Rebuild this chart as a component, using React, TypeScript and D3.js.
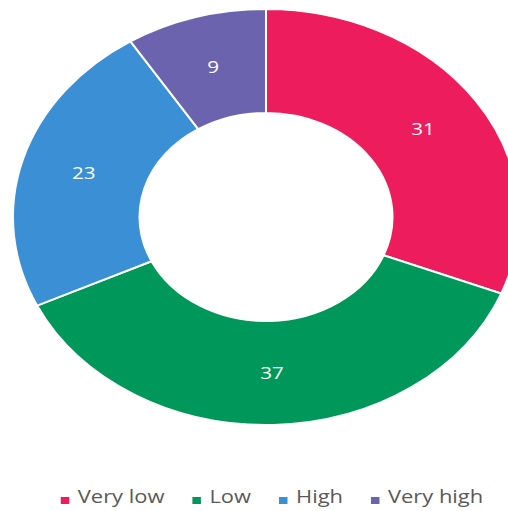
import { useMemo } from "react";
import * as d3 from "d3";

const categories = ["Very low", "Low", "High", "Very high"];
const values = [31, 37, 23, 9];
const colors = ["#ED1C5C", "#00985A", "#3A8FD5", "#6C63AE"];

const W = 508;
const H = 511;
const cx = 266;
const cy = 217;
const ry = 208;
const rx = 253;
const sx = rx / ry; // the original picture is stretched sideways

const legendFont = "18px 'Open Sans', sans-serif";

function measure(text: string): number {
    const ctx = document.createElement("canvas").getContext("2d");
    if (!ctx) return text.length * 9;
    ctx.font = legendFont;
    return ctx.measureText(text).width;
}

export default function App() {
    const data = categories.map((c, i) => ({ name: c, value: values[i], color: colors[i] }));

    const arcs = useMemo(
        () => d3.pie<any>().sort(null).value((d) => d.value)(data),
        []
    );
    const arc = d3.arc<any>().innerRadius(ry * 0.5).outerRadius(ry);

    // legend laid out in unstretched units, then stretched with sx
    const legend = useMemo(() => {
        const sq = 7;
        const gap = 7;
        const itemGap = 23;
        const widths = categories.map(measure);
        const total =
            widths.reduce((a, b) => a + b, 0) +
            categories.length * (sq + gap) +
            (categories.length - 1) * itemGap;
        let x = -total / 2;
        return categories.map((c, i) => {
            const item = { name: c, x, color: colors[i] };
            x += sq + gap + widths[i] + itemGap;
            return item;
        });
    }, []);

    return (
        <div style={{ position: "absolute", left: 0, top: 0, width: W, height: H }}>
            <svg width={W} height={H} style={{ display: "block" }}>
                <rect width={W} height={H} fill="#fff" />
                <g transform={`translate(${cx},${cy}) scale(${sx},1)`}>
                    {arcs.map((a, i) => (
                        <path
                            key={i}
                            d={arc(a) ?? ""}
                            fill={a.data.color}
                            stroke="#fff"
                            strokeWidth={2}
                            vectorEffect="non-scaling-stroke"
                        />
                    ))}
                </g>
                <g transform={`translate(${cx},${cy})`}>
                    {arcs.map((a, i) => {
                        const [x, y] = arc.centroid(a);
                        return (
                            <text
                                key={i}
                                transform={`translate(${x * sx},${y + 6}) scale(${sx},1)`}
                                textAnchor="middle"
                                fill="#fff"
                                style={{ fontFamily: "'Open Sans', sans-serif", fontSize: 17 }}
                            >
                                {a.data.value}
                            </text>
                        );
                    })}
                </g>
                <g transform={`translate(272,0) scale(${sx},1)`}>
                    {legend.map((d) => (
                        <g key={d.name} transform={`translate(${d.x},0)`}>
                            <rect x={0} y={497} width={7} height={7} fill={d.color} />
                            <text
                                x={14}
                                y={503}
                                fill="#595959"
                                style={{ fontFamily: "'Open Sans', sans-serif", fontSize: 18 }}
                            >
                                {d.name}
                            </text>
                        </g>
                    ))}
                </g>
            </svg>
        </div>
    );
}
